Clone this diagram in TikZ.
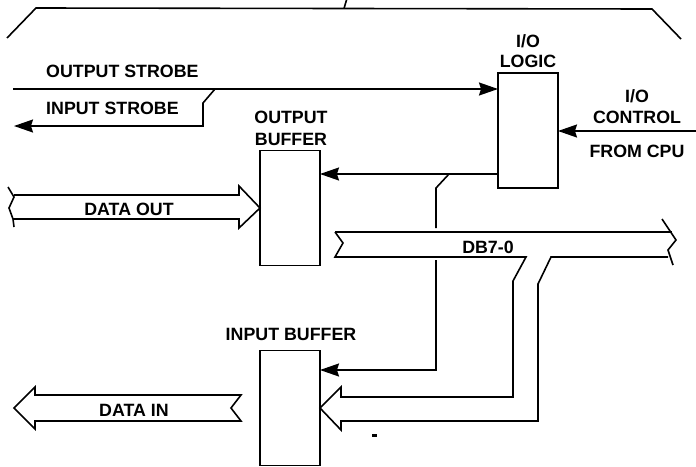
\documentclass[tikz,border=0pt]{standalone}
\usepackage{fontspec}
\setmainfont{Liberation Sans}
\usetikzlibrary{arrows.meta}
\tikzset{
  wire/.style={line width=1.6pt,line join=miter},
  sigline/.style={wire,-{Stealth[length=19pt,width=13pt,inset=2pt]}},
  bufbox/.style={draw,line width=1.8pt,minimum width=60pt,minimum height=115pt,inner sep=0pt,outer sep=0pt},
  lbl/.style={font=\fontsize{17.8}{17.8}\selectfont\bfseries,inner sep=0pt}
}

\begin{document}
\begin{tikzpicture}[x=1pt,y=-1pt]
                    \useasboundingbox (0,0) rectangle (696,466);

                    % boxes
                    \node[bufbox] (logic) at (528,130.5) {};
                    \node[bufbox] (outbuf) at (290,208) {};
                    \node[bufbox] (inbuf) at (290,408) {};

                    % top bracket
                    \coordinate (brL) at (7,38);
                    \coordinate (brR) at (681,39);
                    \coordinate (brT) at (344,8.5);
                    \coordinate (brU) at (346.5,0);
                    \draw[wire] (brL) -- (36,8) -- (652,9) -- (brR);
                    \draw[wire] (brT) -- (brU);

                    % strobes
                    \coordinate (ostrobe) at (13,89);
                    \coordinate (tapS) at (215,89);
                    \coordinate (istrobe) at (14,126);
                    \draw[sigline] (ostrobe) -- (ostrobe -| logic.west);
                    \draw[sigline] (tapS) -- (203,103) -- (203,126) -- (istrobe);

                    % control lines
                    \coordinate (cpu) at (696,131);
                    \coordinate (ctlL) at (498,174);
                    \coordinate (tapC) at (449,174);
                    \coordinate (wireA) at (436,188);
                    \coordinate (wireB) at (436,228);
                    \coordinate (wireC) at (436,260);
                    \coordinate (wireD) at (436,370);
                    \draw[sigline] (cpu) -- (cpu -| logic.east);
                    \draw[sigline] (ctlL) -- (ctlL -| outbuf.east);
                    \draw[wire] (tapC) -- (wireA) -- (wireB);
                    \draw[sigline] (wireC) -- (wireD) -- (wireD -| inbuf.east);

                    % data out
                    \coordinate (dotip) at (outbuf.west);
                    \draw[wire] (8,187) -- (14,197) -- (9,208) -- (13,219) -- (14,227);
                    \draw[wire] (14,195) -- (239,195) -- (239,186) -- (dotip) -- (239,228) -- (239,219) -- (13,219);

                    % db bus
                    \coordinate (ditip) at (inbuf.east);
                    \draw[wire] (335,232) -- (672,232);
                    \draw[wire] (335,232) -- (343,243) -- (335,257) -- (526,257) -- (513,281) -- (513,397) -- (341,397) -- (341,387) -- (ditip) -- (341,430) -- (341,421) -- (538,421) -- (538,284) -- (551,257) -- (668,257);
                    \draw[wire] (662,219) -- (676,240) -- (668,250) -- (673,265);

                    % data in
                    \coordinate (ditipB) at (14,408);
                    \draw[wire] (241,395) -- (35,395) -- (35,387) -- (ditipB) -- (35,429) -- (35,421) -- (241,421) -- (231,408) -- cycle;

                    \fill (372,434) rectangle (377,437);

                    % labels
                    \node[lbl,anchor=west] (lostrobe) at (46,71) {OUTPUT STROBE};
                    \node[lbl,anchor=west] (listrobe) at (46,108) {INPUT STROBE};
                    \node[lbl] (lout1) at (291,117) {OUTPUT};
                    \node[lbl] (lout2) at (291,139) {BUFFER};
                    \node[lbl] (llog1) at (528,41) {I/O};
                    \node[lbl] (llog2) at (528,61) {LOGIC};
                    \node[lbl] (lctl1) at (637,96) {I/O};
                    \node[lbl] (lctl2) at (637,117) {CONTROL};
                    \node[lbl] (lcpu) at (637,151) {FROM CPU};
                    \node[lbl] (ldout) at (129,209) {DATA OUT};
                    \node[lbl] (ldb) at (488,247) {DB7-0};
                    \node[lbl] (linbuf) at (291,334) {INPUT BUFFER};
                    \node[lbl] (ldin) at (134,410) {DATA IN};
\end{tikzpicture}
\end{document}
